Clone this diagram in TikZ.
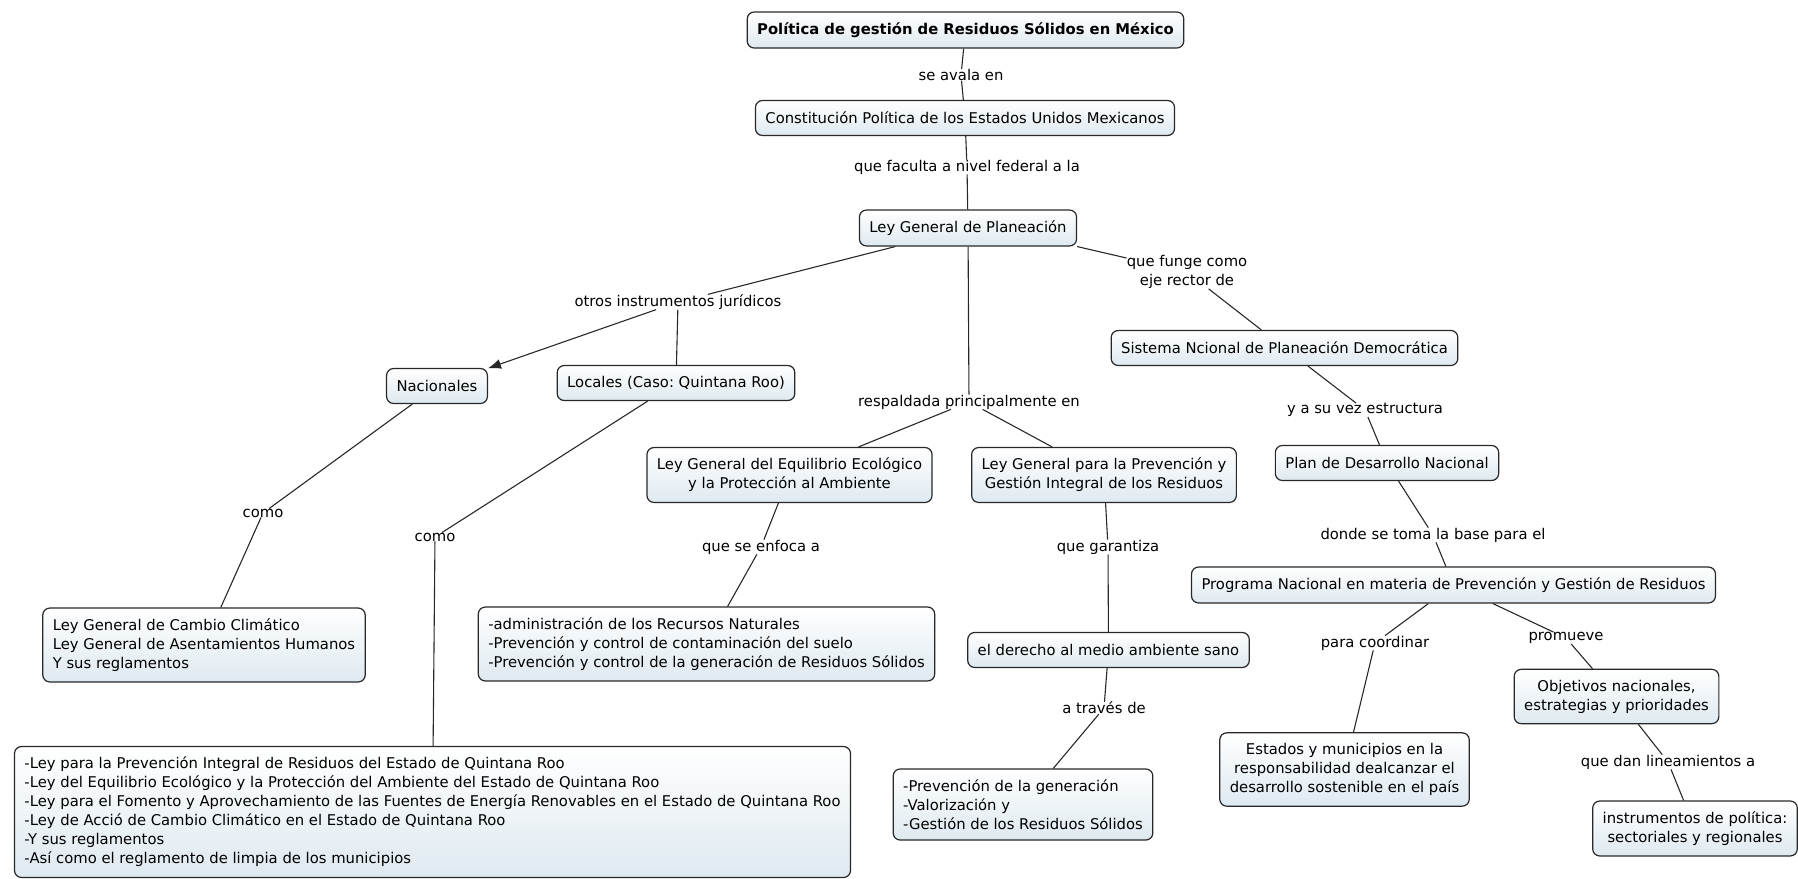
\documentclass[tikz,border=0pt]{standalone}
\usepackage{fontspec}
\setmainfont{DejaVu Sans}
\usetikzlibrary{arrows.meta}
\definecolor{cmapfill}{RGB}{222,233,240}
\definecolor{cmapline}{RGB}{40,40,40}
\frenchspacing
\begin{document}
\begin{tikzpicture}[x=1pt, y=-1pt,
    font=\fontsize{14.8}{19}\selectfont,
    concept/.style={draw=cmapline, line width=1.2pt, rounded corners=7pt,
      top color=white, bottom color=cmapfill, inner xsep=10pt,
      inner ysep=10.5pt, minimum height=35pt, align=center},
    listbox/.style={concept, align=left},
    phrase/.style={inner sep=0pt, align=center},
    link/.style={draw=cmapline, line width=1.1pt}]
  \useasboundingbox (0,0) rectangle (1798,878);
  \node[concept, font=\fontsize{14.8}{19}\selectfont\bfseries] (politica) at (965.5,30)
    {Política de gestión de Residuos Sólidos en México};
  \node[phrase] (avala) at (961,75) {se avala en};
  \node[concept] (constitucion) at (965,118)
    {Constitución Política de los Estados Unidos Mexicanos};
  \node[phrase] (faculta) at (967,167) {que faculta a nivel federal a la};
  \node[concept] (planeacion) at (968,228) {Ley General de Planeación};
  \node[phrase] (otros) at (678,302) {otros instrumentos jurídicos};
  \node[phrase] (funge) at (1187,272) {que funge como\\eje rector de};
  \node[concept] (sistema) at (1284.5,348) {Sistema Ncional de Planeación Democrática};
  \node[concept] (nacionales) at (437,386) {Nacionales};
  \node[concept] (locales) at (676,383) {Locales (Caso: Quintana Roo)};
  \node[phrase] (respaldada) at (969,402) {respaldada principalmente en};
  \node[phrase] (estructura) at (1365,410) {y a su vez estructura};
  \node[concept] (plan) at (1387,463) {Plan de Desarrollo Nacional};
  \node[concept] (lgeepa) at (789.5,475)
    {Ley General del Equilibrio Ecológico\\y la Protección al Ambiente};
  \node[concept] (lgpgir) at (1104,475)
    {Ley General para la Prevención y\\Gestión Integral de los Residuos};
  \node[phrase] (comonac) at (263,513) {como};
  \node[phrase] (comoloc) at (435,537) {como};
  \node[phrase] (base) at (1433,535) {donde se toma la base para el};
  \node[phrase] (enfoca) at (761,547) {que se enfoca a};
  \node[phrase] (garantiza) at (1108,547) {que garantiza};
  \node[concept] (programa) at (1453.5,585)
    {Programa Nacional en materia de Prevención y Gestión de Residuos};
  \node[listbox] (federales) at (204,645)
    {Ley General de Cambio Climático\\Ley General de Asentamientos Humanos\\Y sus reglamentos};
  \node[listbox] (recursos) at (706.5,644)
    {-administración de los Recursos Naturales\\-Prevención y control de contaminación del suelo\\-Prevención y control de la generación de Residuos Sólidos};
  \node[concept] (derecho) at (1108.5,650) {el derecho al medio ambiente sano};
  \node[phrase] (coordinar) at (1375,643) {para coordinar};
  \node[phrase] (promueve) at (1566,638) {promueve};
  \node[concept] (objetivos) at (1616.5,696.5) {Objetivos nacionales,\\estrategias y prioridades};
  \node[phrase] (traves) at (1104,708) {a través de};
  \node[phrase] (lineamientos) at (1668,762) {que dan lineamientos a};
  \node[concept] (estados) at (1344.5,769.5)
    {Estados y municipios en la\\responsabilidad dealcanzar el\\desarrollo sostenible en el país};
  \node[listbox] (gestion) at (1023,804.5)
    {-Prevención de la generación\\-Valorización y\\-Gestión de los Residuos Sólidos};
  \node[concept] (instrumentos) at (1695,828.5) {instrumentos de política:\\sectoriales y regionales};
  \node[listbox] (estatales) at (432.5,812)
    {-Ley para la Prevención Integral de Residuos del Estado de Quintana Roo\\
     -Ley del Equilibrio Ecológico y la Protección del Ambiente del Estado de Quintana Roo\\
     -Ley para el Fomento y Aprovechamiento de las Fuentes de Energía Renovables en el Estado de Quintana Roo\\
     -Ley de Acció de Cambio Climático en el Estado de Quintana Roo\\
     -Y sus reglamentos\\
     -Así como el reglamento de limpia de los municipios};
  \draw[link] (politica) -- (avala) -- (constitucion) -- (faculta) -- (planeacion);
  \draw[link] (planeacion) -- (otros) -- (locales);
  \draw[link, -{Latex[length=13pt, width=10pt]}] (otros) -- (nacionales);
  \draw[link] (planeacion) -- (respaldada) -- (lgeepa);
  \draw[link] (respaldada) -- (lgpgir);
  \draw[link] (planeacion.south east) -- (funge);
  \draw[link] (funge) -- (sistema) -- (estructura) -- (plan) -- (base) -- (programa);
  \draw[link] (programa) -- (coordinar) -- (estados);
  \draw[link] (programa) -- (promueve) -- (objetivos) -- (lineamientos) -- (instrumentos);
  \draw[link] (nacionales) -- (comonac) -- (federales);
  \draw[link] (locales) -- (comoloc) -- (estatales);
  \draw[link] (lgeepa) -- (enfoca) -- (recursos);
  \draw[link] (lgpgir) -- (garantiza) -- (derecho) -- (traves) -- (gestion);
\end{tikzpicture}
\end{document}
